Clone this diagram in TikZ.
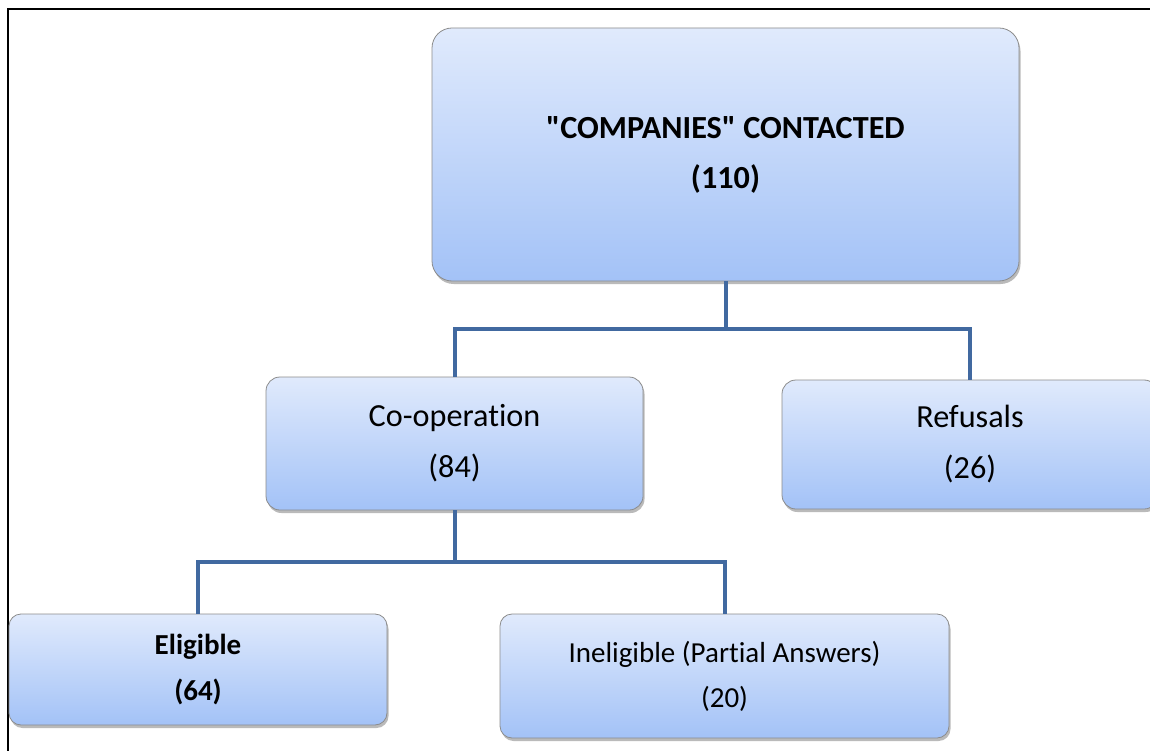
\documentclass[tikz,border=0pt]{standalone}
\usepackage{fontspec}
\setmainfont{Carlito}[Ligatures=NoCommon]
\usetikzlibrary{shadows}
\definecolor{connc}{RGB}{65,105,160}
\definecolor{boxtop}{RGB}{224,234,252}
\definecolor{boxbot}{RGB}{163,194,247}
\definecolor{boxline}{RGB}{140,140,140}
\tikzset{
  box/.style={draw=boxline, line width=0.8pt, rounded corners=#1,
    top color=boxtop, bottom color=boxbot, align=center, inner sep=0pt,
    drop shadow={opacity=0.45, shadow xshift=1.5pt, shadow yshift=-3pt, fill=black!60}},
  link/.style={draw=connc, line width=4pt},
  frameline/.style={draw=black, line width=2pt},
  bigtext/.style={font=\fontsize{32.2}{51}\selectfont},
}
\begin{document}
\begin{tikzpicture}[x=1pt,y=-1pt]
\useasboundingbox (0,0) rectangle (1150,751);
\clip (0,0) rectangle (1150,751);
\fill[white] (0,0) rectangle (1150,751);
\draw[frameline] (8,751) -- (8,9) -- (1150,9);

\node[box=20pt, minimum width=587pt, minimum height=253pt,
  font=\fontsize{32.2}{50}\selectfont\bfseries] (top) at (725.5,154.5)
  {\textquotedbl COMPANIES\textquotedbl{} CONTACTED\\(110)};
\node[box=14pt, minimum width=377pt, minimum height=133pt, bigtext] (coop) at (454.5,443.5)
  {Co-operation\\(84)};
\node[box=14pt, minimum width=376pt, minimum height=129pt, bigtext] (ref) at (970,444.5)
  {Refusals\\(26)};
\node[box=12pt, minimum width=378pt, minimum height=111pt,
  font=\fontsize{29}{46}\selectfont\bfseries] (elig) at (198,669.5)
  {Eligible\\(64)};
\node[box=12pt, minimum width=449pt, minimum height=124pt,
  font=\fontsize{29}{45}\selectfont] (inel) at (724.5,676)
  {Ineligible (Partial Answers)\\(20)};

\draw[link] (top.south) -- (top.south |- 0,329) -| (coop.north);
\draw[link] (top.south) -- (top.south |- 0,329) -| (ref.north);
\draw[link] (coop.south) -- (coop.south |- 0,562) -| (elig.north);
\draw[link] (coop.south) -- (coop.south |- 0,562) -| (inel.north);
\end{tikzpicture}
\end{document}
